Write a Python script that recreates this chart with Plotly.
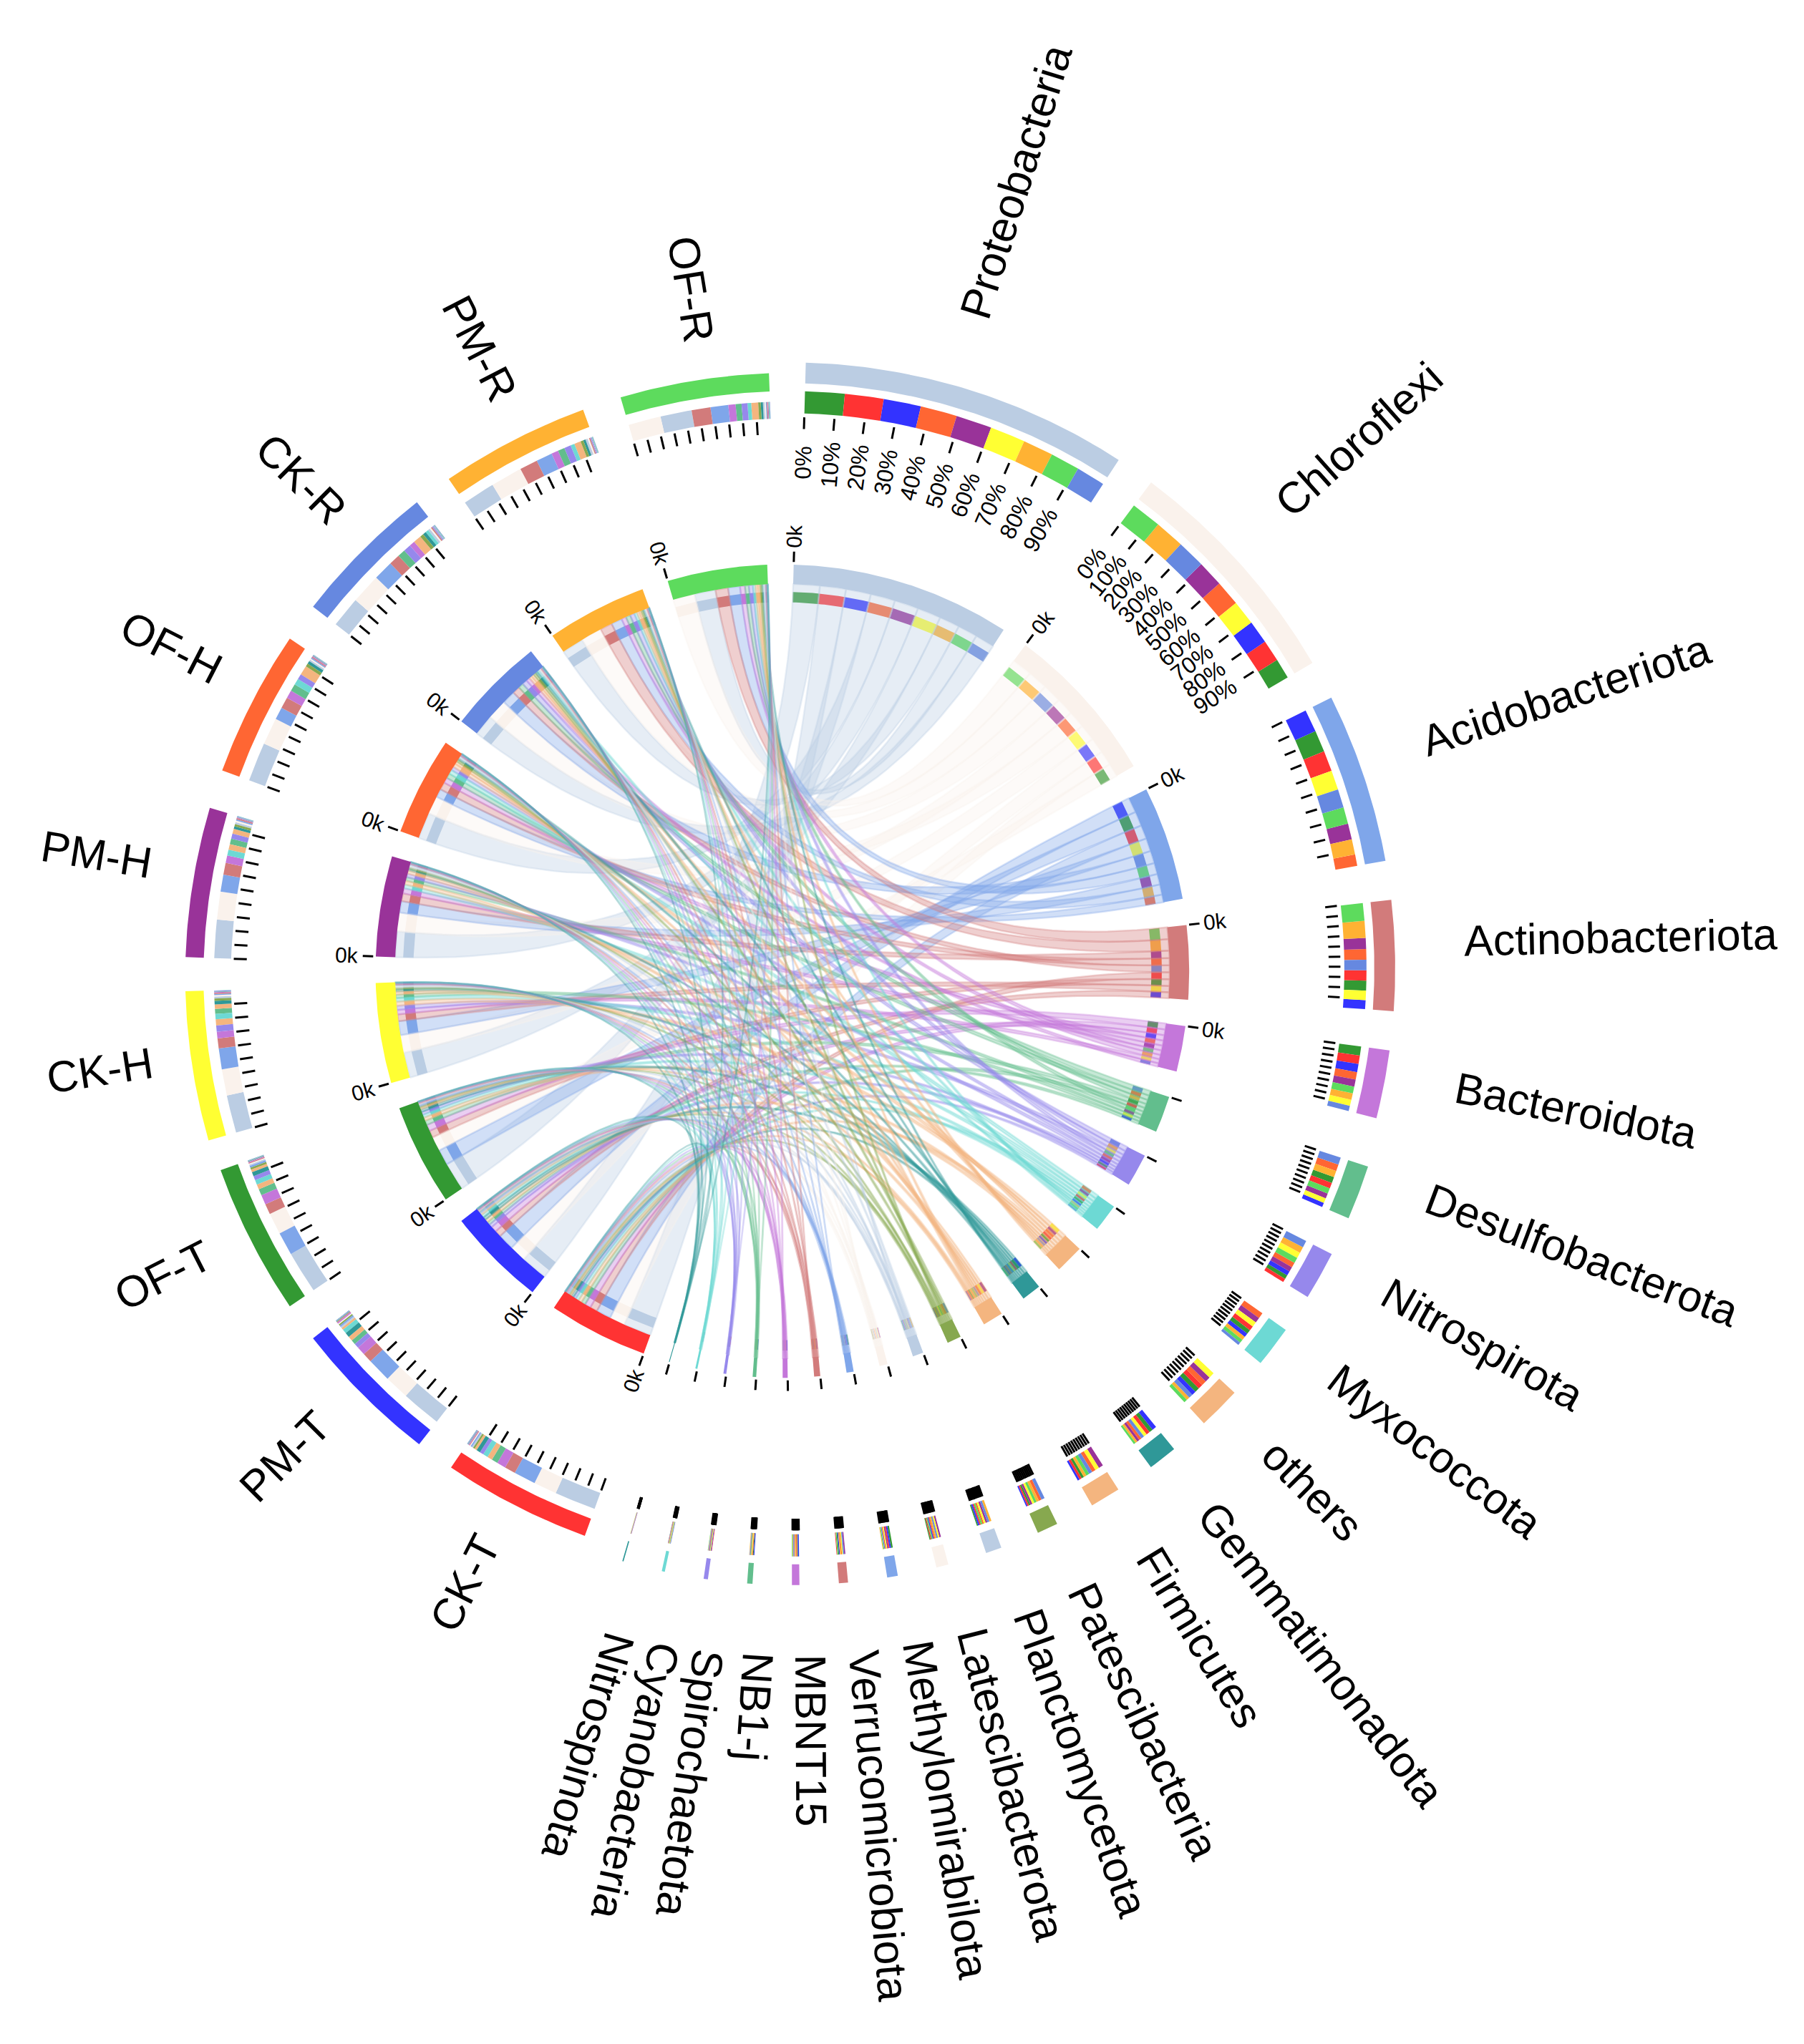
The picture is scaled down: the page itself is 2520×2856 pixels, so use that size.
import math
import plotly.graph_objects as go

samples = ["CK-T", "PM-T", "OF-T", "CK-H", "PM-H", "OF-H", "CK-R", "PM-R", "OF-R"]
sample_colors = ["#FF3333", "#3333FF", "#339933", "#FFFF33", "#993399", "#FF6633", "#6688E0", "#FFB233", "#5DDB5D"]
phyla = ["Proteobacteria", "Chloroflexi", "Acidobacteriota", "Actinobacteriota", "Bacteroidota",
         "Desulfobacterota", "Nitrospirota", "Myxococcota", "others", "Gemmatimonadota", "Firmicutes",
         "Patescibacteria", "Planctomycetota", "Latescibacterota", "Methylomirabilota", "Verrucomicrobiota",
         "MBNT15", "NB1-j", "Spirochaetota", "Cyanobacteria", "Nitrospinota"]
phylum_colors = ["#BBCDE3", "#FAF2EC", "#7FA6EA", "#D27B7B", "#C477DA", "#62BE8D", "#9688EC", "#6DD9D4",
                 "#F4B57F", "#2F9898", "#F4B57F", "#87A84F", "#BBCDE3", "#FAF2EC", "#7FA6EA", "#D27B7B",
                 "#C477DA", "#62BE8D", "#9688EC", "#6DD9D4", "#2F9898"]

# relative abundance, columns follow `samples`
proteobacteria = [26.8, 25.8, 27.3, 24.4, 24.8, 25.3, 20, 21, 20.3]
chloroflexi = [15, 16, 14, 17, 18, 17.5, 19.5, 20.5, 21]
acidobacteriota = [14.2, 15.6, 15, 13.5, 11, 8, 12.8, 10.5, 11.5]
actinobacteriota = [7.1, 6.2, 6.8, 6.5, 7.6, 7.3, 7.2, 11.7, 12.2]
bacteroidota = [5.8, 5.6, 6.3, 4.3, 4.9, 5.2, 3.6, 4.5, 4.7]
desulfobacterota = [4, 3, 4.2, 3.3, 3.6, 4.7, 5, 4.4, 3.8]
nitrospirota = [2.5, 3.1, 2.8, 4, 3.3, 3.5, 4.8, 4.3, 3.8]
myxococcota = [3.2, 2.8, 3, 3.4, 3.7, 4, 2, 2.6, 2.4]
others = [3.3, 3.0, 3.2, 4.0, 3.7, 3.5, 2.8, 2.3, 2.3]
gemmatimonadota = [2.5, 3, 2.7, 2.3, 1.7, 1.9, 2.1, 1.5, 1.4]
firmicutes = [1.6, 1.4, 1.8, 2.8, 3.2, 2.6, 2.4, 2, 2.2]
patescibacteria = [1.1, 0.9, 1.2, 1.5, 1.4, 2, 2.3, 1.8, 1.6]
planctomycetota = [1, 1, 0.9, 1.2, 1.3, 1.1, 1.4, 1.5, 1.1]
latescibacterota = [0.7, 0.8, 0.7, 1, 1.1, 0.9, 1, 1, 0.8]
methylomirabilota = [0.9, 1, 1.2, 0.7, 0.8, 0.7, 0.6, 0.5, 0.6]
verrucomicrobiota = [0.5, 0.6, 0.6, 0.7, 0.8, 0.7, 0.8, 0.7, 0.6]
mbnt15 = [0.5, 0.7, 0.6, 0.5, 0.5, 0.6, 0.5, 0.5, 0.5]
nb1_j = [0.4, 0.5, 0.5, 0.4, 0.3, 0.4, 0.3, 0.3, 0.4]
spirochaetota = [0.4, 0.4, 0.3, 0.4, 0.3, 0.3, 0.3, 0.2, 0.2]
cyanobacteria = [0.1, 0.1, 0.1, 0.2, 0.2, 0.2, 0.4, 0.4, 0.3]
nitrospinota = [0.1, 0.1, 0.08, 0.08, 0.1, 0.08, 0.1, 0.08, 0.08]

rows = [proteobacteria, chloroflexi, acidobacteriota, actinobacteriota, bacteroidota, desulfobacterota,
        nitrospirota, myxococcota, others, gemmatimonadota, firmicutes, patescibacteria, planctomycetota,
        latescibacterota, methylomirabilota, verrucomicrobiota, mbnt15, nb1_j, spirochaetota, cyanobacteria,
        nitrospinota]

# label nudges in shrunk-picture pixels
phylum_nudge = [(-12, -5), (-8, -8), (-5, -10), (0, -10), (3, -8), (3, -15), (4, -15), (4, -11), (1, -7), (2, -4),
                (5, -4), (3, -4), (8, -4), (9, -3), (10, -3), (11, -2), (11, 0), (10, 0), (10, 2), (13, 3), (13, 5)]
sample_nudge = [(-10, -8), (-13, -9), (-10, -12), (-6, -11), (-7, -10), (-3, -12), (0, -9), (5, -10), (8, -5)]

# geometry, measured in the shrunk picture and scaled by S
S = 2856 / 1568
GAP, START = 3.73, 1.6
PHYLA_ARC, SAMPLE_ARC = 120.0, 128.1
OUTER_TOP, OUTER_LOW, INNER_C = (605, 743), (607, 751), (600, 745)
OUTER_SW, OUTER_W = (607, 741), (607, 747)
LINK_ALPHA, STROKE, STROKE_ALPHA = 0.36, 2.5, 0.32

total = sum(sum(r) for r in rows)
pu, su = PHYLA_ARC / total, SAMPLE_ARC / total


def outer_centre(th):
    if th < 100:
        return OUTER_TOP
    if th < 198:
        return OUTER_LOW
    if th < 245:
        return OUTER_SW
    if th < 265:
        return OUTER_W
    return OUTER_LOW


def pol(c, r, t):
    a = math.radians(t)
    return ((c[0] + r * math.sin(a)) * S, (c[1] - r * math.cos(a)) * S)


def arc(c, r, t0, t1):
    n = max(2, int(abs(t1 - t0) / 0.5) + 2)
    return [pol(c, r, t0 + (t1 - t0) * i / (n - 1)) for i in range(n)]


def band(c, r0, r1, t0, t1):
    return arc(c, r1, t0, t1) + arc(c, r0, t1, t0)


def bez(p0, p1, pc, n=50):
    out = []
    for i in range(1, n):
        u = i / n
        out.append(((1 - u) ** 2 * p0[0] + 2 * u * (1 - u) * pc[0] + u * u * p1[0],
                    (1 - u) ** 2 * p0[1] + 2 * u * (1 - u) * pc[1] + u * u * p1[1]))
    return out


def rgba(h, a):
    return f"rgba({int(h[1:3], 16)},{int(h[3:5], 16)},{int(h[5:7], 16)},{a})"


AW = {'A': .667, 'B': .667, 'C': .722, 'D': .722, 'F': .611, 'G': .778, 'H': .722, 'K': .667, 'L': .556, 'M': .833,
      'N': .722, 'O': .778, 'P': .667, 'R': .722, 'S': .667, 'T': .611, 'V': .667, 'a': .556, 'b': .556, 'c': .5,
      'd': .556, 'e': .556, 'f': .278, 'h': .556, 'i': .222, 'j': .222, 'l': .222, 'm': .833, 'n': .556, 'o': .556,
      'p': .556, 'r': .333, 's': .5, 't': .278, 'u': .556, 'x': .5, 'y': .5, '-': .333}


def text_w(s, fs):
    return sum(AW.get(ch, .556) for ch in s) * fs / S


# sector layout
sectors = []
t = START
for i, row in enumerate(rows):
    w = sum(row) * pu
    sectors.append(("p", i, t, t + w))
    t += w + GAP
for j in range(len(samples)):
    w = sum(r[j] for r in rows) * su
    sectors.append(("s", j, t, t + w))
    t += w + GAP

p_range = {s[1]: (s[2], s[3]) for s in sectors if s[0] == "p"}
s_range = {s[1]: (s[2], s[3]) for s in sectors if s[0] == "s"}

# order inside each sector: largest share first, clockwise
p_seg = {}
for i, row in enumerate(rows):
    t = p_range[i][0]
    for j in sorted(range(len(samples)), key=lambda q: -row[q]):
        p_seg[(i, j)] = (t, t + row[j] * pu)
        t += row[j] * pu
s_seg = {}
for j in range(len(samples)):
    t = s_range[j][0]
    for i in sorted(range(len(rows)), key=lambda q: -rows[q][j]):
        s_seg[(i, j)] = (t, t + rows[i][j] * su)
        t += rows[i][j] * su

fig = go.Figure()


def add_polys(polys, color, stroke=0, stroke_color=None):
    xs, ys = [], []
    for poly in polys:
        xs += [p[0] for p in poly] + [poly[0][0], None]
        ys += [p[1] for p in poly] + [poly[0][1], None]
    fig.add_trace(go.Scatter(x=xs, y=ys, mode="lines", line=dict(width=stroke, color=stroke_color or color),
                             fill="toself", fillcolor=color, hoverinfo="skip", showlegend=False))


RING_P = (449, 465)
RING_S = (451, 465)
STRIP_P = (426, 443)
STRIP_S = (430, 443)
RING_I = (297, 312)
STRIP_I = (283, 291)
TICK_P = (414, 423)
TICK_S = (418, 428)

# strips (both circles), merged per colour
buckets = {}
for (i, j), (a, b) in p_seg.items():
    oc = outer_centre(p_range[i][0])
    buckets.setdefault(sample_colors[j], []).extend([band(oc, *STRIP_P, a, b), band(INNER_C, *STRIP_I, a, b)])
for (i, j), (a, b) in s_seg.items():
    oc = outer_centre(s_range[j][0])
    buckets.setdefault(phylum_colors[i], []).extend([band(oc, *STRIP_S, a, b), band(INNER_C, *STRIP_I, a, b)])
for col, polys in buckets.items():
    add_polys(polys, col)

# chords
centre = (INNER_C[0] * S, INNER_C[1] * S)
for i in range(len(rows)):
    for j in range(len(samples)):
        a1, a2 = s_seg[(i, j)]
        b1, b2 = p_seg[(i, j)]
        A = arc(INNER_C, RING_I[0], a1, a2)
        B = arc(INNER_C, RING_I[0], b1, b2)
        poly = A + bez(A[-1], B[0], centre) + B + bez(B[-1], A[0], centre)
        add_polys([poly], rgba(phylum_colors[i], LINK_ALPHA), STROKE, rgba(phylum_colors[i], STROKE_ALPHA))

# rings
buckets = {}
for kind, k, a, b in sectors:
    col = phylum_colors[k] if kind == "p" else sample_colors[k]
    ring = RING_P if kind == "p" else RING_S
    buckets.setdefault(col, []).extend([band(outer_centre(a), *ring, a, b), band(INNER_C, *RING_I, a, b)])
for col, polys in buckets.items():
    add_polys(polys, col)

# ticks
tx, ty = [], []
anns = []


def ann(c, r, th, txt, angle, fs, nudge=(0, 0)):
    x, y = pol(c, r, th)
    anns.append(dict(x=x + nudge[0] * S, y=y + nudge[1] * S, xref="x", yref="y", text=txt, showarrow=False,
                     textangle=angle, xanchor="center", yanchor="middle",
                     font=dict(family="Liberation Sans, Arial, sans-serif", size=fs, color="black")))


PCT_ONLY = {0, 1}
ZEROK_P = {0, 1, 2, 3, 4}
for kind, k, a, b in sectors:
    oc = outer_centre(a)
    tick = TICK_P if kind == "p" else TICK_S
    for n in range(10):
        th = a + (b - a) * n / 10
        p0, p1 = pol(oc, tick[0], th), pol(oc, tick[1], th)
        tx += [p0[0], p1[0], None]
        ty += [p0[1], p1[1], None]
        if kind == "p" and k in PCT_ONLY:
            ann(oc, 388, th, f"{n * 10}%", th - 90, 32)
    p0, p1 = pol(INNER_C, 314, a), pol(INNER_C, 322, a)
    tx += [p0[0], p1[0], None]
    ty += [p0[1], p1[1], None]
    if kind == "s" or k in ZEROK_P:
        ann(INNER_C, 334, a, "0k", (a - 90) if a < 180 else (a - 270), 30)
fig.add_trace(go.Scatter(x=tx, y=ty, mode="lines", line=dict(color="black", width=3), hoverinfo="skip",
                         showlegend=False))

# sector names
FS = 61
for kind, k, a, b in sectors:
    mid = (a + b) / 2
    if kind == "p":
        name = phyla[k]
        ann(outer_centre(a), 518 + text_w(name, FS) / 2, mid, name, mid - 90, FS, phylum_nudge[k])
    else:
        name = samples[k]
        ann(OUTER_LOW, 490 + text_w(name, FS) / 2, mid, name, mid - 270, FS, sample_nudge[k])

fig.update_layout(width=2520, height=2856, margin=dict(l=0, r=0, t=0, b=0), paper_bgcolor="white",
                  plot_bgcolor="white", annotations=anns, showlegend=False,
                  xaxis=dict(range=[0, 2520], visible=False, fixedrange=True),
                  yaxis=dict(range=[2856, 0], visible=False, fixedrange=True))
fig.write_html("out.html", post_script="document.body.style.margin='0';", config={"displayModeBar": False})
